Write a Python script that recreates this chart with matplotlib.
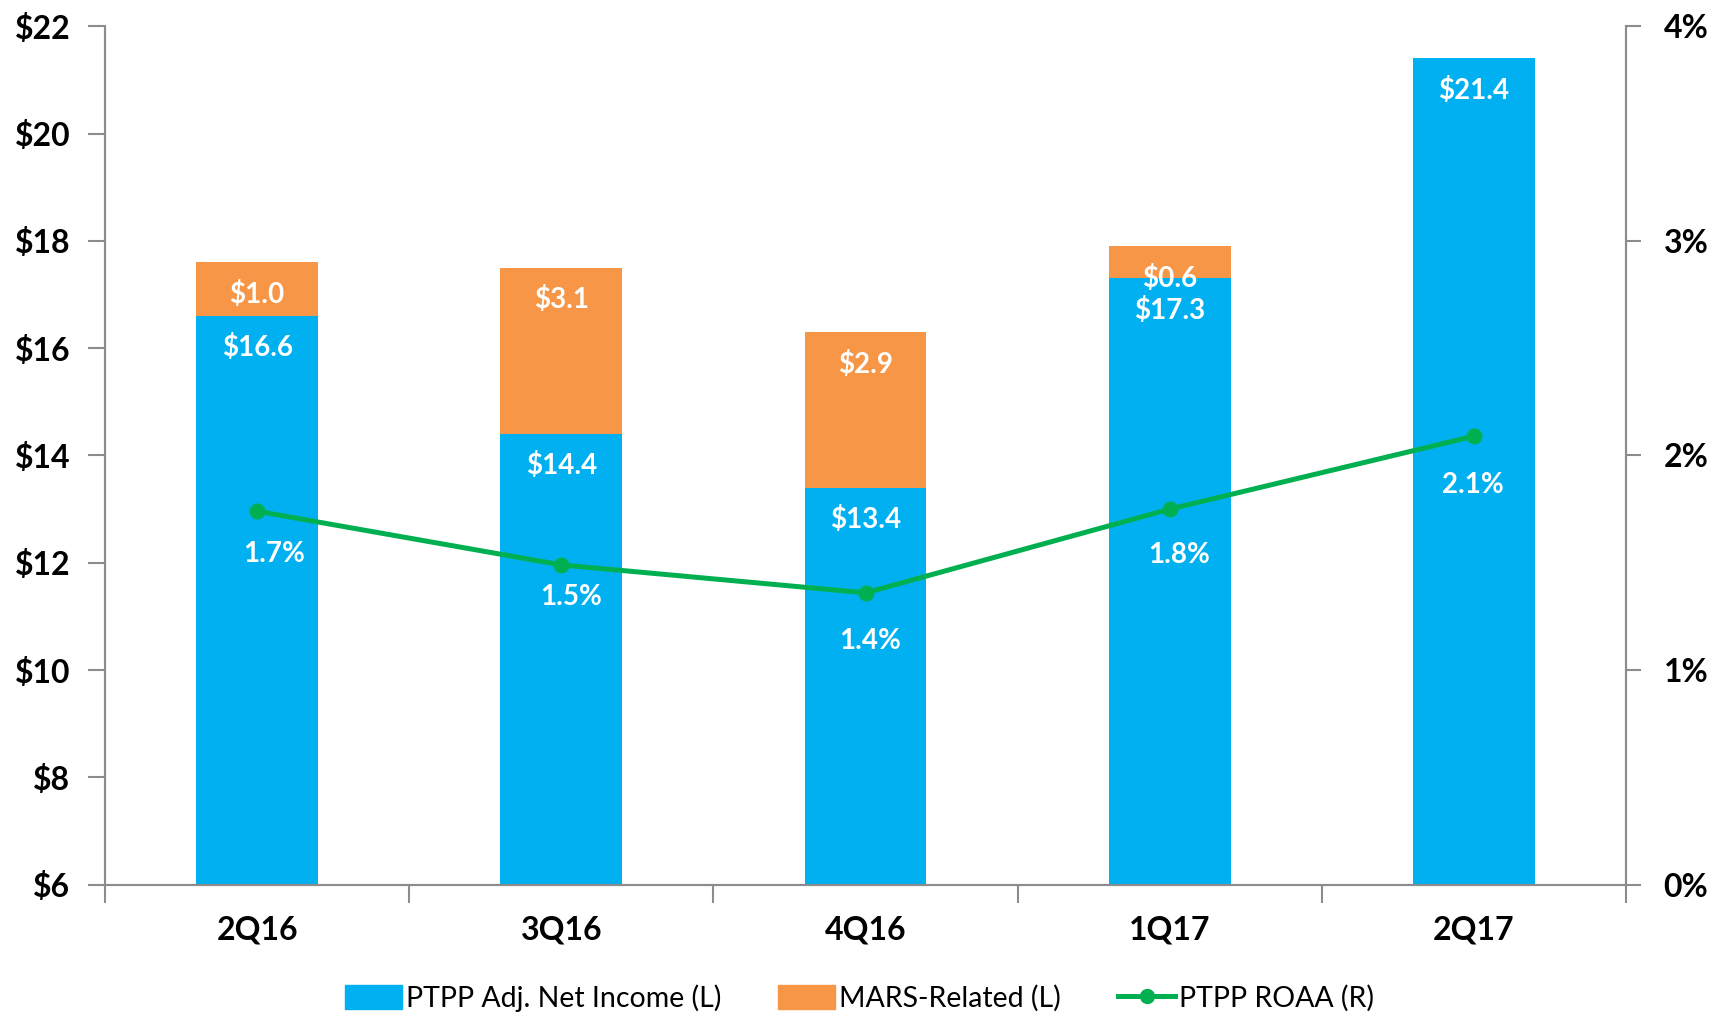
import matplotlib.pyplot as plt
from matplotlib.patches import Patch
from matplotlib.lines import Line2D
from matplotlib.ticker import FuncFormatter
import numpy as np

plt.rcParams['font.family'] = ['Lato', 'DejaVu Sans']

quarters = ['2Q16', '3Q16', '4Q16', '1Q17', '2Q17']
net_income = [16.6, 14.4, 13.4, 17.3, 21.4]      # PTPP Adj. Net Income ($M)
mars_related = [1.0, 3.1, 2.9, 0.6, 0.0]         # MARS-Related ($M)
roaa = [1.74, 1.49, 1.36, 1.75, 2.09]            # PTPP ROAA (%)
roaa_labels = ['1.7%', '1.5%', '1.4%', '1.8%', '2.1%']

blue = '#00B0F0'
orange = '#F79646'
green = '#00B050'
grey = '#8C8C8C'

fig = plt.figure(figsize=(17.19, 10.15), dpi=100)
ax = fig.add_axes([0.0611, 0.1284, 0.8848, 0.8457])
ax2 = ax.twinx()

x = np.arange(len(quarters))
base = 6
ax.bar(x, np.array(net_income) - base, bottom=base, width=0.4, color=blue, zorder=2)
ax.bar(x, mars_related, bottom=net_income, width=0.4, color=orange, zorder=2)

# bar labels (inside end)
for i in range(len(quarters)):
    ax.annotate('$%.1f' % net_income[i], (x[i], net_income[i]), xytext=(0, -23),
                textcoords='offset points', ha='center', va='center',
                color='white', fontsize=20, fontweight='bold', zorder=5)
    if mars_related[i] > 0:
        top = net_income[i] + mars_related[i]
        ax.annotate('$%.1f' % mars_related[i], (x[i], top), xytext=(0, -23),
                    textcoords='offset points', ha='center', va='center',
                    color='white', fontsize=20, fontweight='bold', zorder=5)

ax.set_xlim(-0.5, 4.5)
ax.set_ylim(6, 22)
ax.set_yticks(range(6, 23, 2))
ax.yaxis.set_major_formatter(FuncFormatter(lambda v, p: '$%d' % v))

ax.set_xticks(x)
ax.set_xticklabels(quarters)
ax.set_xticks(np.arange(-0.5, 5, 1), minor=True)
ax.tick_params(axis='x', which='major', length=0, pad=22, labelsize=23)
ax.tick_params(axis='x', which='minor', length=13, width=1.5, color=grey)
ax.tick_params(axis='y', length=12, width=1.5, color=grey, pad=13, labelsize=23)
for lbl in ax.get_xticklabels() + ax.get_yticklabels():
    lbl.set_fontweight('bold')

ax2.plot(x, roaa, color=green, linewidth=3.6, marker='o', markersize=10.5, zorder=4)
label_offsets = [(12, -31), (7, -23), (3, -35), (7, -33), (-1, -35)]
for i in range(len(quarters)):
    ax2.annotate(roaa_labels[i], (x[i], roaa[i]), xytext=label_offsets[i],
                 textcoords='offset points', ha='center', va='center',
                 color='white', fontsize=20, fontweight='bold')
ax2.set_ylim(0, 4)
ax2.set_yticks(range(0, 5))
ax2.yaxis.set_major_formatter(FuncFormatter(lambda v, p: '%d%%' % v))
ax2.tick_params(axis='y', length=11, width=1.5, color=grey, pad=16, labelsize=23)
for lbl in ax2.get_yticklabels():
    lbl.set_fontweight('bold')

for a in (ax, ax2):
    a.spines['top'].set_visible(False)
    for s in ('left', 'right', 'bottom'):
        a.spines[s].set_color(grey)
        a.spines[s].set_linewidth(1.5)

handles = [Patch(color=blue, label='PTPP Adj. Net Income (L)'),
           Patch(color=orange, label='MARS-Related (L)'),
           Line2D([], [], color=green, linewidth=3.6, marker='o', markersize=10,
                  label='PTPP ROAA (R)')]
fig.legend(handles=handles, loc='center', bbox_to_anchor=(0.5, 0.017), ncol=3,
           frameon=False, fontsize=20.5, handlelength=2.0, handleheight=0.9,
           handletextpad=0.15, columnspacing=2.0)

fig.savefig('out.png', dpi=100)
